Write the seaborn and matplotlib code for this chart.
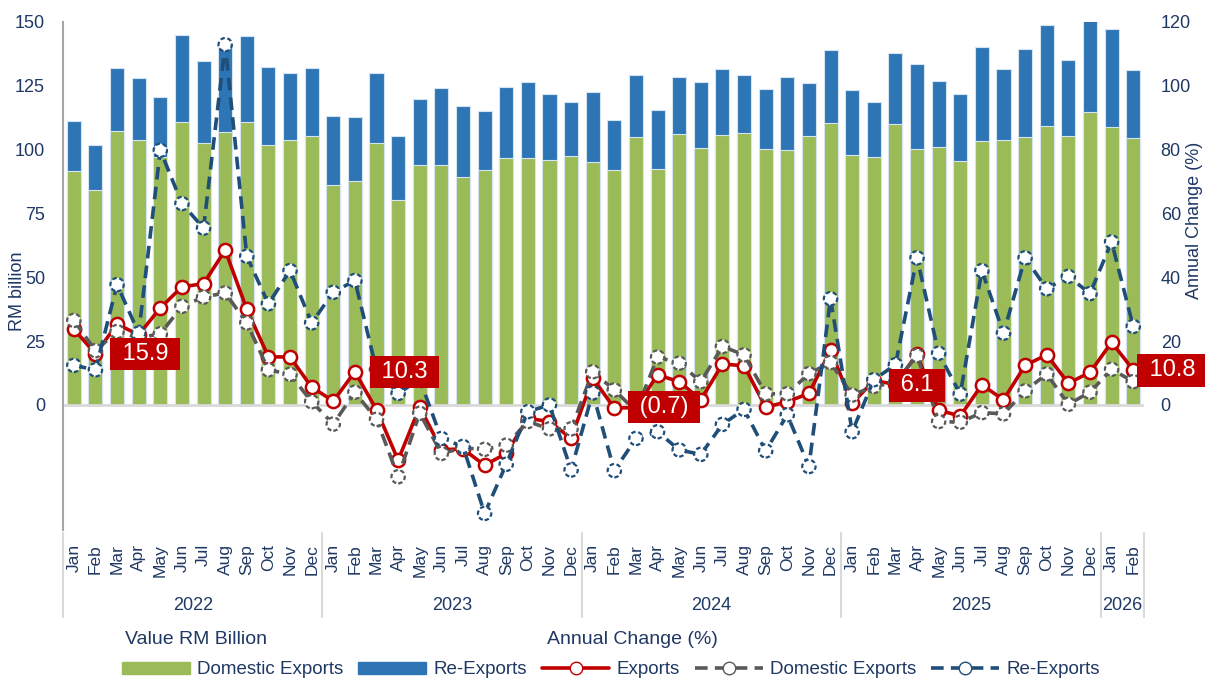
import numpy as np
import pandas as pd
import matplotlib.pyplot as plt
import matplotlib.transforms as mtransforms
from matplotlib.patches import Patch
from matplotlib.lines import Line2D
import seaborn as sns

# ---------------- data ----------------
months = ["Jan", "Feb", "Mar", "Apr", "May", "Jun",
          "Jul", "Aug", "Sep", "Oct", "Nov", "Dec"]
years = [2022, 2023, 2024, 2025, 2026]
months_per_year = [12, 12, 12, 12, 2]

# RM billion
domestic_exports = [
    91.6, 84.0, 107.2, 103.7, 97.0, 110.8, 102.7, 106.9, 110.7, 101.8, 103.7, 105.4,
    86.2, 87.6, 102.7, 80.4, 94.0, 94.1, 89.1, 92.1, 96.8, 96.6, 95.8, 97.5,
    95.0, 91.9, 104.8, 92.3, 106.1, 100.8, 105.6, 106.5, 100.3, 99.7, 105.2, 110.6,
    97.8, 97.1, 110.2, 100.1, 101.0, 95.4, 103.3, 103.7, 104.8, 109.4, 105.5, 114.9,
    109.0, 104.6,
]
re_exports = [
    19.6, 18.0, 24.6, 24.2, 23.8, 34.1, 32.0, 34.6, 33.9, 30.5, 26.3, 26.4,
    26.8, 25.0, 27.3, 25.0, 25.9, 30.1, 27.9, 23.2, 27.8, 29.8, 26.0, 21.2,
    27.6, 19.7, 24.4, 23.1, 22.3, 25.6, 26.1, 22.8, 23.6, 28.8, 21.1, 28.3,
    25.4, 21.5, 27.5, 33.6, 25.8, 26.4, 37.1, 28.0, 34.6, 39.4, 29.8, 35.9,
    38.2, 26.7,
]

# annual change (%)
chg_exports = [
    23.8, 16.0, 25.3, 22.0, 30.4, 37.0, 38.0, 48.5, 30.0, 15.1, 15.0, 5.6,
    1.2, 10.4, -1.5, -17.3, -0.6, -14.0, -13.8, -18.9, -15.2, -4.2, -5.2, -10.5,
    8.4, -1.0, -0.8, 9.4, 7.3, 1.6, 12.8, 12.3, -0.7, 1.0, 3.6, 17.1,
    0.5, 7.6, 6.5, 15.9, -1.6, -3.5, 6.3, 1.6, 12.4, 15.7, 6.8, 10.2,
    19.6, 11.0,
]
chg_domestic = [
    26.5, 17.0, 23.0, 21.0, 22.3, 30.9, 33.8, 35.1, 25.7, 11.0, 9.6, 1.0,
    -6.0, 4.0, -4.5, -22.5, -2.6, -15.2, -13.5, -13.9, -12.6, -5.2, -7.5, -7.5,
    10.4, 4.7, -2.0, 15.0, 13.1, 7.3, 18.3, 15.7, 3.5, 3.5, 9.8, 13.3,
    3.1, 5.8, 7.0, 15.5, -5.2, -5.4, -2.4, -2.8, 4.4, 9.7, 0.2, 4.0,
    11.2, 7.3,
]
chg_reexports = [
    12.4, 11.0, 37.7, 22.5, 79.8, 63.1, 55.4, 112.9, 46.6, 31.7, 42.1, 25.7,
    35.3, 39.0, 11.0, 3.6, 8.0, -10.5, -13.0, -34.0, -18.6, -2.1, 0.0, -20.4,
    3.8, -20.6, -10.5, -8.4, -14.1, -15.5, -6.1, -1.4, -14.4, -3.1, -19.3, 33.3,
    -8.4, 7.9, 12.6, 46.1, 16.2, 3.4, 42.1, 22.5, 46.1, 36.4, 40.3, 34.9,
    51.1, 24.6,
]

# yearly export growth boxes
annual_values = [15.9, 10.3, -0.7, 6.1, 10.8]
annual_labels = ["15.9", "10.3", "(0.7)", "6.1", "10.8"]
annual_pos = [3.3, 15.3, 27.3, 39.0, 50.8]

# ---------------- frame ----------------
period_year = sum([[y] * n for y, n in zip(years, months_per_year)], [])
period_month = sum([months[:n] for n in months_per_year], [])

df = pd.DataFrame({
    "period": [f"{m} {y}" for m, y in zip(period_month, period_year)],
    "month": period_month,
    "domestic": domestic_exports,
    "reexports": re_exports,
    "chg_exports": chg_exports,
    "chg_domestic": chg_domestic,
    "chg_reexports": chg_reexports,
})
df["total"] = df["domestic"] + df["reexports"]
df["pos"] = np.arange(len(df))

# ---------------- style ----------------
GREEN = "#9BBB59"
BLUE = "#2E75B6"
RED = "#C00000"
GREY = "#595959"
NAVY_LINE = "#1F4E79"
TXT = "#1F3864"

sns.set_style("white")
plt.rcParams["font.family"] = ["Liberation Sans", "DejaVu Sans"]

fig = plt.figure(figsize=(12.05, 6.79), dpi=100)
ax = fig.add_axes([0.0523, 0.2194, 0.8971, 0.7482])

# stacked bars: total first (blue), domestic over it (green)
sns.barplot(data=df, x="period", y="total", color=BLUE, width=0.65,
            edgecolor="#D6E4F2", linewidth=0.8, saturation=1, ax=ax)
sns.barplot(data=df, x="period", y="domestic", color=GREEN, width=0.65,
            edgecolor="#D6E4F2", linewidth=0.8, saturation=1, ax=ax)

ax.set_xlim(-0.5, len(df) - 0.5)
ax.set_ylim(-49, 150)
ax.set_yticks(np.arange(0, 151, 25))
ax.set_xticks(df["pos"])
ax.set_xticklabels(df["month"], rotation=90)
ax.tick_params(axis="x", length=0, pad=10, labelsize=12.5, labelcolor=TXT)
ax.tick_params(axis="y", length=0, pad=13, labelsize=13, labelcolor=TXT)
ax.set_xlabel("")
ax.set_ylabel("RM billion", fontsize=13, color=TXT)
ax.yaxis.set_label_coords(-0.034, 0.47)
for s in ["top", "right", "bottom"]:
    ax.spines[s].set_visible(False)
ax.spines["left"].set_color("#A6A6A6")
ax.spines["left"].set_linewidth(1.5)
ax.axhline(0, color="#D9D9D9", lw=2, zorder=1)

# year labels & separators
trans = mtransforms.blended_transform_factory(ax.transData, ax.transAxes)
start = 0
for y, n in zip(years, months_per_year):
    ax.text(start + (n - 1) / 2, -0.148, str(y), transform=trans,
            ha="center", va="center", fontsize=13, color=TXT)
    start += n
for b in np.cumsum([0] + months_per_year) - 0.5:
    ax.plot([b, b], [-0.006, -0.171], transform=trans, color="#D9D9D9",
            lw=1.5, clip_on=False)

# annual change lines
ax2 = ax.twinx()
ax2.set_ylim(-39.2, 120)
ax2.set_yticks(np.arange(0, 121, 20))
ax2.tick_params(axis="y", length=0, pad=12, labelsize=13, labelcolor=TXT)
ax2.set_ylabel("Annual Change (%)", fontsize=13, color=TXT)
ax2.yaxis.set_label_coords(1.039, 0.61)
for s in ["top", "right", "bottom", "left"]:
    ax2.spines[s].set_visible(False)

dash = (0, (3.5, 2))
sns.lineplot(data=df, x="pos", y="chg_exports", color=RED, lw=2.6,
             marker="o", markersize=9.5, markerfacecolor="white",
             markeredgecolor=RED, markeredgewidth=1.8, zorder=3, ax=ax2)
sns.lineplot(data=df, x="pos", y="chg_domestic", color=GREY, lw=2.6,
             linestyle=dash, zorder=4, ax=ax2)
sns.scatterplot(data=df, x="pos", y="chg_domestic", s=92, color="white",
                edgecolor=GREY, linewidth=1.6, linestyle=(0, (2, 1.2)),
                zorder=4.5, legend=False, ax=ax2)
sns.lineplot(data=df, x="pos", y="chg_reexports", color=NAVY_LINE, lw=2.6,
             linestyle=dash, zorder=5, ax=ax2)
sns.scatterplot(data=df, x="pos", y="chg_reexports", s=92, color="white",
                edgecolor=NAVY_LINE, linewidth=1.6, linestyle=(0, (2, 1.2)),
                zorder=5.5, legend=False, ax=ax2)
ax2.set_xlabel("")
ax2.set_xlim(-0.5, len(df) - 0.5)

# yearly growth boxes
for xp, v, lab in zip(annual_pos, annual_values, annual_labels):
    ax2.text(xp, v, f" {lab} ", ha="center", va="center", fontsize=17,
             color="white", zorder=10,
             bbox=dict(boxstyle="square,pad=0.22", fc=RED, ec="none"))

# legend block
fig.text(125 / 1205, 1 - 640 / 679, "Value RM Billion", fontsize=14,
         color=TXT, ha="left", va="center")
fig.text(632 / 1205, 1 - 640 / 679, "Annual Change (%)", fontsize=14,
         color=TXT, ha="center", va="center")

handles = [
    Patch(color=GREEN, label="Domestic Exports"),
    Patch(color=BLUE, label="Re-Exports"),
    Line2D([], [], color=RED, lw=2.6, marker="o", markersize=9,
           markerfacecolor="white", markeredgecolor=RED, label="Exports"),
    Line2D([], [], color=GREY, lw=2.6, linestyle=dash, marker="o",
           markersize=9, markerfacecolor="white", markeredgecolor=GREY,
           label="Domestic Exports"),
    Line2D([], [], color=NAVY_LINE, lw=2.6, linestyle=dash, marker="o",
           markersize=9, markerfacecolor="white", markeredgecolor=NAVY_LINE,
           label="Re-Exports"),
]
leg = fig.legend(handles=handles, loc="center left",
                 bbox_to_anchor=(122 / 1205, 1 - 670 / 679), ncol=5,
                 frameon=False, fontsize=13.5, handlelength=3.6,
                 handleheight=0.55, handletextpad=0.4, columnspacing=0.8,
                 borderpad=0, borderaxespad=0)
for t in leg.get_texts():
    t.set_color(TXT)

fig.savefig("out.png", dpi=100)
